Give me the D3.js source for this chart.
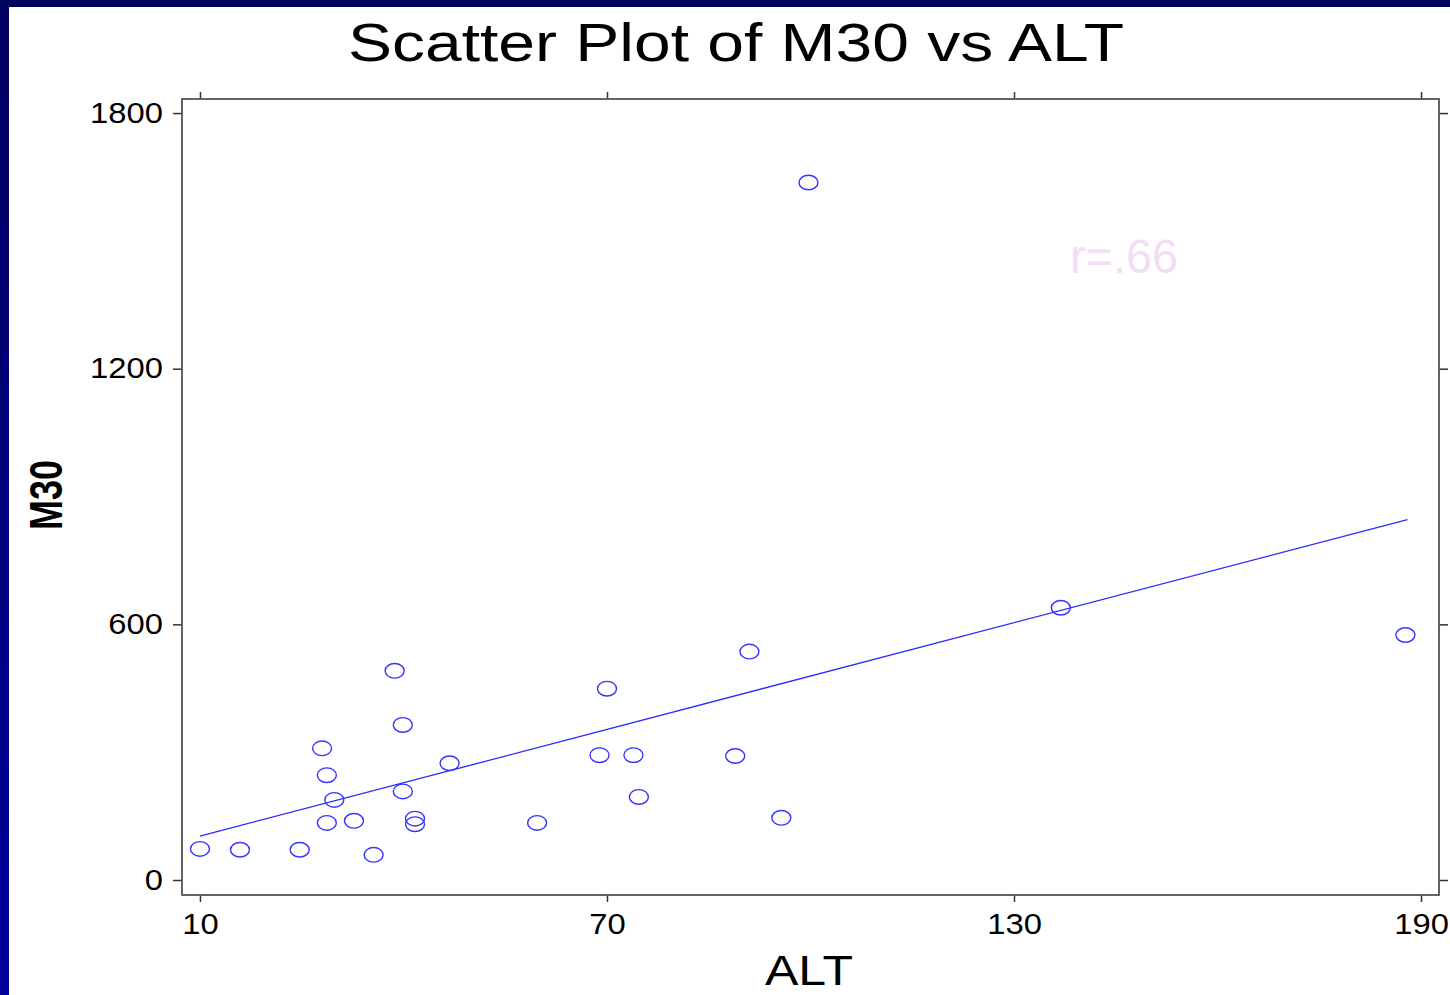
<!DOCTYPE html>
<html>
<head>
<meta charset="utf-8">
<script src="https://cdn.jsdelivr.net/npm/d3@7"></script>
<style>
  body { margin: 0; background: #fff; }
  svg { display: block; font-family: "Liberation Sans", Arial, sans-serif; }
</style>
</head>
<body>
<div id="chart"></div>
<script>
// data
const altValues = [10, 15.9, 24.7, 28.0, 28.7, 28.7, 29.8, 32.7, 35.6, 38.7, 39.9, 39.9, 41.7,
                   41.7, 46.8, 59.7, 68.9, 70.0, 73.9, 74.7, 88.9, 91.0, 95.7, 99.7, 136.9, 187.7];
const m30Values = [73, 71, 71, 309, 246, 134, 188, 139, 59, 491, 364, 208, 144,
                   131, 274, 134, 293, 449, 293, 195, 291, 536, 146, 1637, 639, 575];

// fitted line, ends
const fitAlt = [10, 188];
const fitM30 = [103, 846];

const xTicks = [10, 70, 130, 190];
const yTicks = [0, 600, 1200, 1800];

const W = 1450, H = 995;
const box = {left: 182, right: 1439, top: 99, bottom: 895};

const svg = d3.select("#chart").append("svg")
    .attr("width", W)
    .attr("height", H);

// slide background bits
let grad = svg.append("defs").append("linearGradient")
    .attr("id", "sideGrad")
    .attr("x1", 0).attr("y1", 0).attr("x2", 0).attr("y2", 1);
grad.append("stop").attr("offset", "0%").attr("stop-color", "#00005e");
grad.append("stop").attr("offset", "100%").attr("stop-color", "#00009c");

svg.append("rect").attr("x", 0).attr("y", 0).attr("width", 9).attr("height", H)
    .attr("fill", "url(#sideGrad)");
svg.append("rect").attr("x", 0).attr("y", 0).attr("width", W).attr("height", 7)
    .attr("fill", "#00005e");

let x = d3.scaleLinear().domain([7.35, 192.65]).range([box.left, box.right]);
let y = d3.scaleLinear().domain([-35.2, 1833]).range([box.bottom, box.top]);

// stretch text horizontally a bit like the source
function stretch(sel, k) {
    sel.each(function() {
        d3.select(this)
            .attr("textLength", this.getComputedTextLength() * k)
            .attr("lengthAdjust", "spacingAndGlyphs");
    });
}

function styleAxis(g) {
    g.select(".domain").remove();
    g.selectAll(".tick line").attr("stroke", "#333").attr("stroke-width", 1.5);
    g.selectAll(".tick text")
        .attr("fill", "#000")
        .style("font-size", "29px")
        .style("font-family", "'Liberation Sans', Arial, sans-serif");
}

let gx = svg.append("g")
    .attr("transform", `translate(0,${box.bottom})`)
    .call(d3.axisBottom(x).tickValues(xTicks).tickSize(7).tickPadding(11).tickFormat(d3.format("d")))
    .call(styleAxis);
stretch(gx.selectAll(".tick text"), 1.13);

svg.append("g")
    .attr("transform", `translate(0,${box.top})`)
    .call(d3.axisTop(x).tickValues(xTicks).tickSize(7).tickFormat(""))
    .call(styleAxis);

let gy = svg.append("g")
    .attr("transform", `translate(${box.left},0)`)
    .call(d3.axisLeft(y).tickValues(yTicks).tickSize(9).tickPadding(10).tickFormat(d3.format("d")))
    .call(styleAxis);
stretch(gy.selectAll(".tick text"), 1.13);

svg.append("g")
    .attr("transform", `translate(${box.right},0)`)
    .call(d3.axisRight(y).tickValues(yTicks).tickSize(9).tickFormat(""))
    .call(styleAxis);

// frame
svg.append("rect")
    .attr("x", box.left).attr("y", box.top)
    .attr("width", box.right - box.left)
    .attr("height", box.bottom - box.top)
    .attr("fill", "none")
    .attr("stroke", "#555")
    .attr("stroke-width", 1.8);

// regression line
svg.append("line")
    .attr("x1", x(fitAlt[0])).attr("y1", y(fitM30[0]))
    .attr("x2", x(fitAlt[1])).attr("y2", y(fitM30[1]))
    .attr("stroke", "#2a2aff")
    .attr("stroke-width", 1.3);

// points
svg.append("g").selectAll("ellipse")
    .data(altValues.map((a, i) => ({alt: a, m30: m30Values[i]})))
    .join("ellipse")
    .attr("cx", d => x(d.alt))
    .attr("cy", d => y(d.m30))
    .attr("rx", 9.5)
    .attr("ry", 7.3)
    .attr("fill", "none")
    .attr("stroke", "#3535ff")
    .attr("stroke-width", 1.4);

// labels
svg.append("text")
    .attr("x", 736).attr("y", 61)
    .attr("text-anchor", "middle")
    .style("font-size", "54px")
    .attr("textLength", 776)
    .attr("lengthAdjust", "spacingAndGlyphs")
    .text("Scatter Plot of M30 vs ALT");

svg.append("text")
    .attr("x", 809).attr("y", 985)
    .attr("text-anchor", "middle")
    .style("font-size", "42px")
    .attr("textLength", 88)
    .attr("lengthAdjust", "spacingAndGlyphs")
    .text("ALT");

svg.append("text")
    .attr("transform", "translate(62,495) rotate(-90)")
    .attr("text-anchor", "middle")
    .style("font-size", "47px")
    .style("font-weight", "bold")
    .attr("textLength", 70)
    .attr("lengthAdjust", "spacingAndGlyphs")
    .text("M30");

svg.append("text")
    .attr("x", 1070).attr("y", 273)
    .style("font-size", "49px")
    .attr("fill", "#f3ddf3")
    .attr("textLength", 108)
    .attr("lengthAdjust", "spacingAndGlyphs")
    .text("r=.66");
</script>
</body>
</html>
